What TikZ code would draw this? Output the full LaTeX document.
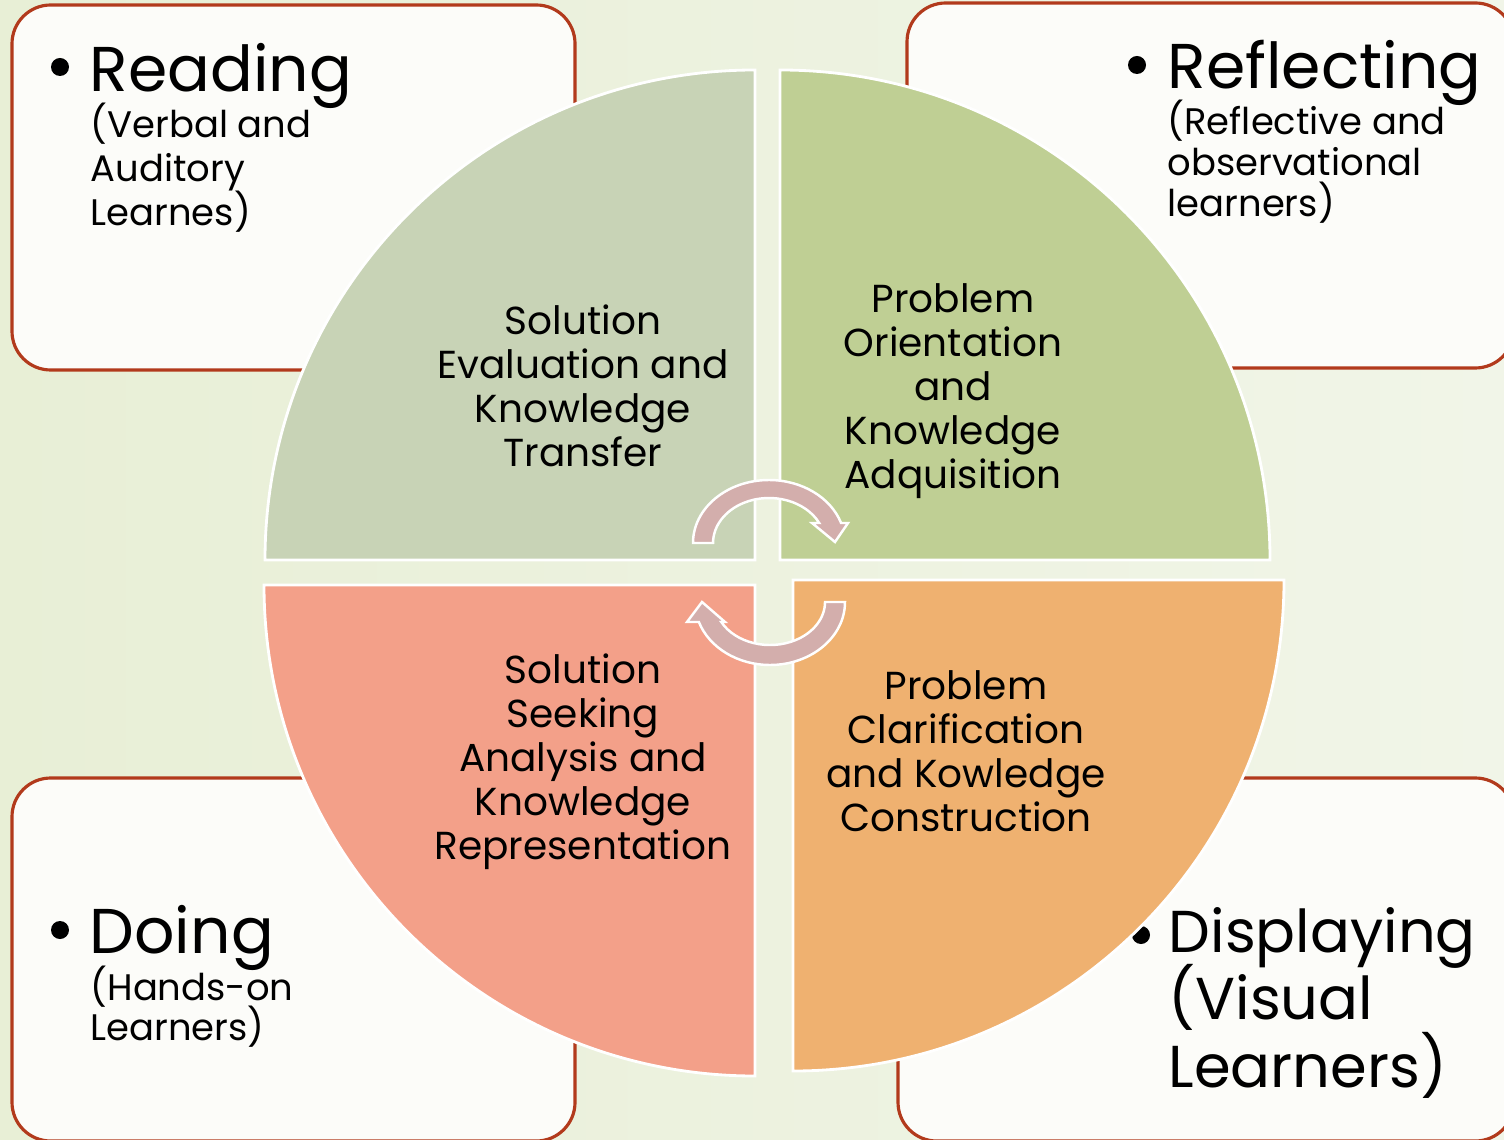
\documentclass[tikz,border=0pt]{standalone}
\usepackage{fontspec}
\setmainfont{Poppins}
\definecolor{boxred}{RGB}{178,58,28}
\definecolor{sage}{RGB}{200,211,182}
\definecolor{leaf}{RGB}{191,207,148}
\definecolor{salmon}{RGB}{243,160,137}
\definecolor{apricot}{RGB}{239,177,112}
\definecolor{rose}{RGB}{211,174,172}
\definecolor{paper}{RGB}{252,252,249}
\definecolor{bgleft}{RGB}{232,239,214}
\definecolor{bgright}{RGB}{241,245,232}
\newcommand{\tightlines}{\lineskiplimit=-50pt\relax}
\begin{document}
\begin{tikzpicture}[x=0.01cm, y=0.01cm,
    learner/.style={draw=boxred, line width=0.9pt, fill=paper, rounded corners=11pt},
    quarter/.style={draw=white, line width=0.8pt},
    turn/.style={draw=white, line width=0.7pt, fill=rose},
    bigword/.style={anchor=base west, inner sep=0, font=\fontsize{18}{19.1}\selectfont},
    smallword/.style={anchor=north west, inner sep=0, align=left},
    phase/.style={align=center, inner sep=0, font=\fontsize{11.1}{12.5}\selectfont}]
    \useasboundingbox (0,0) rectangle (1504,1139);
    \clip (0,0) rectangle (1504,1139);
    \shade[left color=bgleft, right color=bgright] (0,0) rectangle (1504,1139);

    % learner boxes
    \draw[learner] (12,769) rectangle (575,1134);
    \draw[learner] (907,771) rectangle (1514,1136);
    \draw[learner] (12,-2) rectangle (575,361);
    \draw[learner] (898,-2) rectangle (1514,361);

    \fill (60,1072) circle (9);
    \node[bigword] (reading) at (89,1047) {Reading};
    \node[smallword, font=\fontsize{10.5}{12.5}\selectfont\tightlines] (readingsub) at (90,1037) {(Verbal and\\Auditory\\Learnes)};

    \fill (1137,1074) circle (9);
    \node[bigword] (reflecting) at (1167,1050) {Reflecting};
    \node[smallword, font=\fontsize{10.5}{11.7}\selectfont\tightlines] (reflectingsub) at (1167,1040) {(Reflective and\\observational\\learners)};

    \fill (60,209) circle (9);
    \node[bigword] (doing) at (89,186) {Doing};
    \node[smallword, font=\fontsize{10.5}{11.5}\selectfont\tightlines] (doingsub) at (90,174) {(Hands-on\\Learners)};

    \fill (1141,204) circle (9);
    \node[smallword, font=\fontsize{16.8}{19.1}\selectfont\tightlines] (displaying) at (1168,232) {Displaying\\(Visual\\Learners)};

    % the four quarters
    \draw[quarter, fill=sage] (755,579) -- ++(-490,0) arc[start angle=180, end angle=90, radius=490] -- cycle;
    \draw[quarter, fill=leaf] (780,579) -- ++(0,490) arc[start angle=90, end angle=0, radius=490] -- cycle;
    \draw[quarter, fill=salmon] (755,554) -- ++(0,-491) arc[start angle=270, end angle=180, radius=491] -- cycle;
    \draw[quarter, fill=apricot] (793,559) -- ++(491,0) arc[start angle=0, end angle=-90, radius=491] -- cycle;

    \node[phase] (evaluation) at (583,753) {Solution\\Evaluation and\\Knowledge\\Transfer};
    \node[phase] (orientation) at (953,748) {Problem\\Orientation\\and\\Knowledge\\Adquisition};
    \node[phase] (seeking) at (583,377) {Solution\\Seeking\\Analysis and\\Knowledge\\Representation};
    \node[phase] (clarification) at (966,388) {Problem\\Clarification\\and Kowledge\\Construction};

    % cycle arrows
    \draw[turn] (693,596) arc[start angle=180, end angle=18.5, x radius=76, y radius=63] -- (848,616) -- (835,597) -- (812,616) -- (819.2,616) arc[start angle=26.4, end angle=180, x radius=56, y radius=45] -- cycle;
    \draw[turn] (845,537) arc[start angle=0, end angle=-161.5, x radius=75, y radius=63] -- (687,517) -- (702,537) -- (725,517) -- (721.3,517) arc[start angle=-152.3, end angle=0, x radius=55, y radius=43] -- cycle;
\end{tikzpicture}
\end{document}
